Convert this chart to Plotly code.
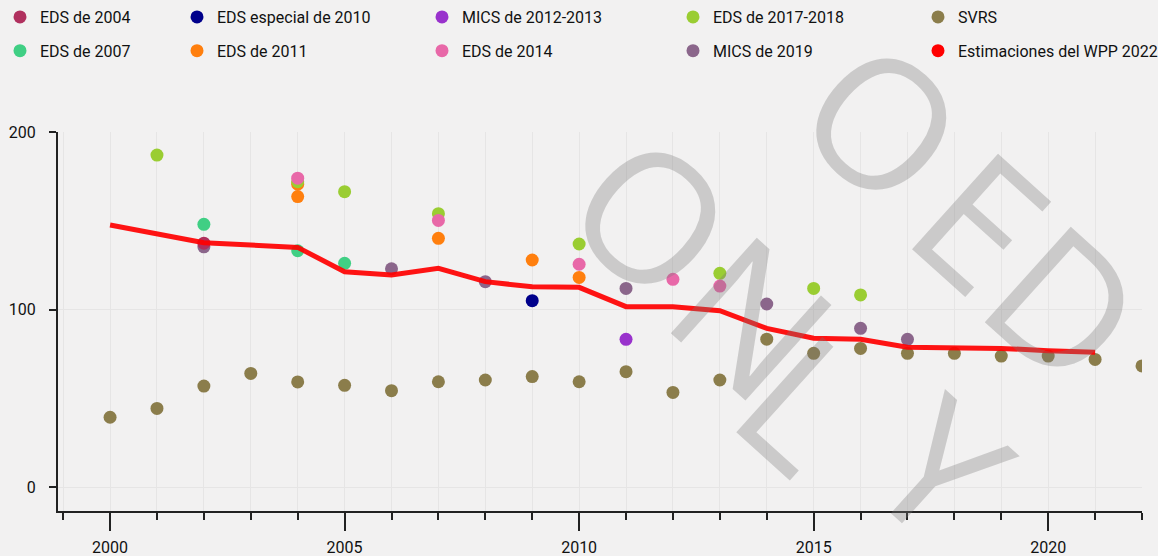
import plotly.graph_objects as go

# ---------------- data ----------------
svrs_years = list(range(2000, 2023))
svrs_vals = [39.3, 44.3, 56.9, 64.0, 59.2, 57.3, 54.3, 59.3, 60.3, 62.2, 59.3, 65.0,
             53.3, 60.3, 83.3, 75.3, 78.1, 75.3, 75.3, 73.8, 73.8, 71.9, 68.2]

wpp_years = list(range(2000, 2022))
wpp_vals = [147.6, 142.9, 137.6, 136.3, 135.0, 121.3, 119.4, 123.2, 115.7, 112.8, 112.5,
            101.6, 101.6, 99.3, 89.4, 83.8, 83.2, 78.7, 78.7, 78.1, 76.8, 75.9]

eds2004_years = [2002]
eds2004_vals = [137.4]

eds2007_years = [2002, 2004, 2005]
eds2007_vals = [148.0, 133.1, 126.0]

eds2010_years = [2009]
eds2010_vals = [105.0]

eds2011_years = [2004, 2004, 2007, 2009, 2010]
eds2011_vals = [170.6, 163.6, 140.1, 127.9, 118.1]

mics1213_years = [2011]
mics1213_vals = [83.2]

eds2014_years = [2004, 2007, 2010, 2012, 2013]
eds2014_vals = [174.0, 150.2, 125.5, 117.0, 113.2]

eds1718_years = [2001, 2004, 2005, 2007, 2010, 2013, 2015, 2016]
eds1718_vals = [187.0, 172.0, 166.4, 154.0, 136.9, 120.4, 111.9, 108.2]

mics2019_years = [2002, 2006, 2008, 2011, 2014, 2016, 2017]
mics2019_vals = [135.3, 122.9, 115.7, 111.9, 103.1, 89.4, 83.2]

x_ticks = [2000, 2005, 2010, 2015, 2020]
y_ticks = [0, 100, 200]

# watermark glyphs visible on the picture (pixel centres)
wm_letters = ["O", "E", "D", "O", "N", "L", "Y"]
wm_px = [885, 983, 1067, 654, 755, 805, 943]
wm_py = [120, 219, 302, 214, 315, 400, 466]

FONT = "Roboto, sans-serif"
FS = 16
MS = 13

fig = go.Figure()

def dots(name, xs, ys, color, legend, rank):
    fig.add_trace(go.Scatter(
        x=xs, y=ys, mode="markers", name=name,
        marker=dict(size=MS, color=color, line=dict(width=0)),
        legend=legend, legendrank=rank, legendgroup=name,
    ))

# drawing order (bottom -> top)
dots("SVRS", svrs_years, svrs_vals, "#8B7D4B", "legend5", 1)
dots("MICS de 2019", mics2019_years, mics2019_vals, "#8B668B", "legend4", 2)
dots("EDS de 2011", eds2011_years, eds2011_vals, "#FF7F0E", "legend2", 2)
dots("EDS de 2017-2018", eds1718_years, eds1718_vals, "#9ACD32", "legend4", 1)
dots("EDS de 2014", eds2014_years, eds2014_vals, "#E868A8", "legend3", 2)
dots("EDS de 2007", eds2007_years, eds2007_vals, "#40CF84", "legend", 2)
dots("EDS especial de 2010", eds2010_years, eds2010_vals, "#00008B", "legend2", 1)
dots("MICS de 2012-2013", mics1213_years, mics1213_vals, "#9932CC", "legend3", 1)
dots("EDS de 2004", eds2004_years, eds2004_vals, "#B0305E", "legend", 1)

fig.add_trace(go.Scatter(
    x=wpp_years, y=wpp_vals, mode="lines", name="Estimaciones del WPP 2022",
    line=dict(color="rgba(255,0,0,0.92)", width=5), showlegend=False,
    legendgroup="wpp",
))
fig.add_trace(go.Scatter(
    x=[None], y=[None], mode="markers", name="Estimaciones del WPP 2022",
    marker=dict(size=MS, color="#FF0000"), legend="legend5", legendrank=2,
    legendgroup="wpp",
))

legend_cols = [18, 196, 441, 692, 937]
common_leg = dict(
    orientation="v", xref="container", yref="container", xanchor="left", yanchor="top",
    y=1 + 9 / 556, font=dict(family=FONT, size=FS, color="#111111"),
    bgcolor="rgba(0,0,0,0)", tracegroupgap=10, itemclick=False,
)
legs = {}
for i, mx in enumerate(legend_cols):
    key = "legend" if i == 0 else f"legend{i + 1}"
    legs[key] = dict(common_leg, x=max(mx - 19, 0) / 1158)

# plot area in pixels
L, R, T, B = 58, 1142, 132, 511
annotations = []
for ch, px, py in zip(wm_letters, wm_px, wm_py):
    annotations.append(dict(
        text=ch, xref="paper", yref="paper",
        x=(px - L) / (R - L), y=(B - py) / (B - T),
        xanchor="center", yanchor="middle", showarrow=False, textangle=42,
        font=dict(family="Open Sans, sans-serif", size=180, weight=500,
                  color="rgba(120,120,120,0.32)"),
    ))

axis_col = "#222222"
fig.update_layout(
    width=1158, height=556,
    margin=dict(l=L, r=1158 - R, t=T, b=556 - B, autoexpand=False),
    paper_bgcolor="#f2f1f1", plot_bgcolor="#f2f1f1",
    font=dict(family=FONT, size=FS, color="#111111"),
    showlegend=True,
    annotations=annotations,
    **legs,
)
fig.update_xaxes(
    range=[1998.89, 2022.0], tickmode="array", tickvals=x_ticks,
    ticks="outside", ticklen=18, tickwidth=2, tickcolor=axis_col,
    showline=True, linecolor=axis_col, linewidth=2,
    showgrid=True, gridcolor="#e6e5e5", gridwidth=1, zeroline=False,
    ticklabelstandoff=3,
    minor=dict(dtick=1, tick0=2000, ticks="outside", ticklen=7, tickwidth=2,
               tickcolor=axis_col, showgrid=True, gridcolor="#e6e5e5"),
    tickfont=dict(family=FONT, size=FS, color="#111111"),
)
fig.update_yaxes(
    range=[-13.5, 200], tickmode="array", tickvals=y_ticks,
    ticks="outside", ticklen=7, tickwidth=2, tickcolor=axis_col,
    showline=True, linecolor=axis_col, linewidth=2,
    showgrid=True, gridcolor="#e6e5e5", zeroline=False,
    ticklabelstandoff=10,
    tickfont=dict(family=FONT, size=FS, color="#111111"),
)

fig.write_html(
    "out.html",
    config={"displayModeBar": False},
    post_script="document.body.style.margin='0';document.body.style.background='#f2f1f1';",
)
